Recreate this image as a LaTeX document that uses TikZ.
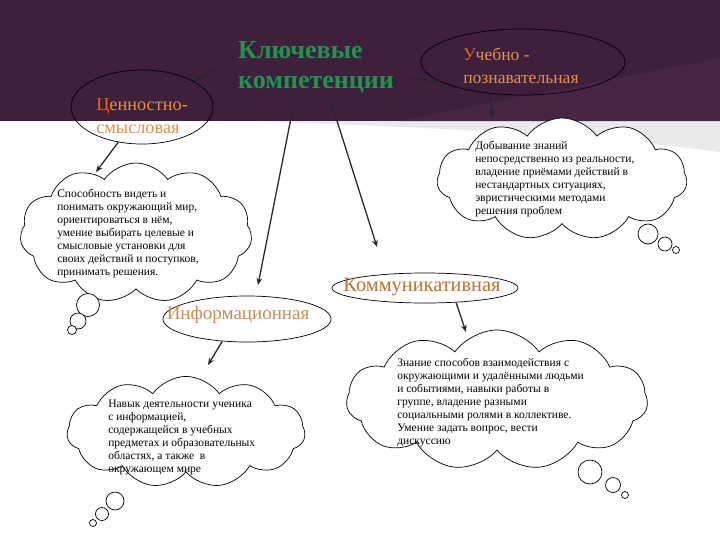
\documentclass[tikz,border=0pt]{standalone}
\usepackage{fontspec}
\setmainfont{Liberation Serif}
\usetikzlibrary{shapes.geometric, shapes.symbols, arrows.meta}

\definecolor{bandpurple}{RGB}{62,31,60}
\definecolor{bandlight}{RGB}{71,38,68}
\definecolor{swoosh}{RGB}{234,234,234}
\definecolor{titlegreen}{RGB}{30,150,80}
\definecolor{labelorange}{RGB}{226,146,70}
\definecolor{capred}{RGB}{240,96,20}
\definecolor{infotan}{RGB}{205,140,80}
\definecolor{commbrown}{RGB}{185,115,50}

\tikzset{
    oval/.style={ellipse, draw=black, line width=0.5pt, inner sep=0pt},
    puff/.style={cloud, cloud puffs=11, cloud puff arc=110, draw=black, line width=0.5pt, fill=white, inner sep=0pt},
    bubble/.style={draw=black, line width=0.5pt, fill=white},
    cloudtext/.style={anchor=north west, align=left, inner sep=0pt, font=\fontsize{8.2}{9.2}\selectfont},
    ovaltext/.style={inner sep=0pt, align=left},
    arr/.style={-{Stealth[length=5pt,width=4pt]}, line width=0.9pt, black!85}
}

\begin{document}
\begin{tikzpicture}[x=0.025cm, y=-0.025cm]
    % Background
    \useasboundingbox (0,0) rectangle (720,540);
    \fill[white] (0,0) rectangle (720,540);
    \fill[swoosh] (253,121) .. controls (450,128) and (600,136) .. (720,152) -- (720,121) -- cycle;
    \fill[bandpurple] (0,0) rectangle (720,121);
    \fill[bandlight] (399,121) -- (720,58) -- (720,121) -- cycle;

    % Title and the ovals on the band
    \node[font=\fontsize{18.5}{21.3}\selectfont\bfseries, text=titlegreen, align=left, inner sep=0pt] (key) at (316,67) {Ключевые\\компетенции};
    \node[oval, minimum width=3.55cm, minimum height=1.85cm] (val) at (142,107) {};
    \node[ovaltext, anchor=west, text=labelorange, font=\fontsize{13}{16.3}\selectfont] (valt) at (96,116) {{\color{capred}Ц}енностно-\\смысловая};
    \node[oval, minimum width=5.1cm, minimum height=1.65cm] (uch) at (523,62) {};
    \node[ovaltext, anchor=west, text=labelorange, font=\fontsize{12.5}{16.3}\selectfont] (ucht) at (463,66) {{\color{capred}У}чебно -\\познавательная};

    % Ovals below the band
    \node[oval, fill=white, minimum width=4.2cm, minimum height=1.15cm] (inf) at (247,319) {};
    \node[ovaltext, text=infotan, font=\fontsize{13.5}{16}\selectfont] (inft) at (238,315) {Информационная};
    \node[oval, fill=white, minimum width=4.65cm, minimum height=0.75cm] (com) at (425,288) {};
    \node[ovaltext, text=commbrown, font=\fontsize{14.5}{16}\selectfont] (comt) at (422,287) {Коммуникативная};

    % Clouds
    \node[puff, minimum width=6.25cm, minimum height=3.05cm] (dob) at (562,179) {};
    \node[puff, minimum width=5.8cm, minimum height=3.5cm] (spo) at (136,233) {};
    \node[puff, minimum width=5.95cm, minimum height=2.78cm] (nav) at (186,432) {};
    \node[puff, minimum width=7.53cm, minimum height=3.5cm] (zna) at (497,400) {};

    % Thought bubbles
    \draw[bubble] (648,234) circle[radius=10];
    \draw[bubble] (665,244) circle[radius=7];
    \draw[bubble] (676,250) circle[radius=3.5];
    \draw[bubble] (88,305) circle[radius=11.5];
    \draw[bubble] (78,321) circle[radius=8];
    \draw[bubble] (72,330) circle[radius=4.5];
    \draw[bubble] (115,501) circle[radius=9];
    \draw[bubble] (102,514) circle[radius=6.5];
    \draw[bubble] (93,523) circle[radius=3.5];
    \draw[bubble] (590,472) circle[radius=12];
    \draw[bubble] (613,485) circle[radius=7.5];
    \draw[bubble] (625,495) circle[radius=3.5];

    % Cloud texts
    \node[cloudtext] (dobt) at (475,141) {Добывание знаний\\непосредственно из реальности,\\владение приёмами действий в\\нестандартных ситуациях,\\эвристическими методами\\решения проблем};
    \node[cloudtext] (spot) at (57,189) {Способность видеть и\\понимать окружающий мир,\\ориентироваться в нём,\\умение выбирать целевые и\\смысловые установки для\\своих действий и поступков,\\принимать решения.};
    \node[cloudtext] (navt) at (108,400) {Навык деятельности ученика\\с информацией,\\содержащейся в учебных\\предметах и образовательных\\областях, а также~ в\\окружающем мире};
    \node[cloudtext] (znat) at (397,358) {Знание способов взаимодействия с\\окружающими и удалёнными людьми\\и событиями, навыки работы в\\группе, владение разными\\социальными ролями в коллективе.\\Умение задать вопрос, вести\\дискуссию};

    % Arrow ends
    \coordinate (k1) at (220,67);
    \coordinate (k2) at (410,78);
    \coordinate (k4) at (292,113);
    \coordinate (k5) at (332,105);
    \coordinate (d3) at (493,117);
    \coordinate (d4) at (258,285);
    \coordinate (d5) at (377,247);
    \coordinate (d6) at (96,172);
    \coordinate (d7) at (208,365);
    \coordinate (d8) at (466,332);

    % Arrows
    \draw[arr] (k1) -- (val.27);
    \draw[arr] (k2) -- (uch.193);
    \draw[arr] (uch.223) -- (d3);
    \draw[arr] (val.236) -- (d6);
    \draw[arr] (k4) -- (d4);
    \draw[arr] (k5) -- (d5);
    \draw[arr] (inf.222) -- (d7);
    \draw[arr] (com.335) -- (d8);
\end{tikzpicture}
\end{document}
